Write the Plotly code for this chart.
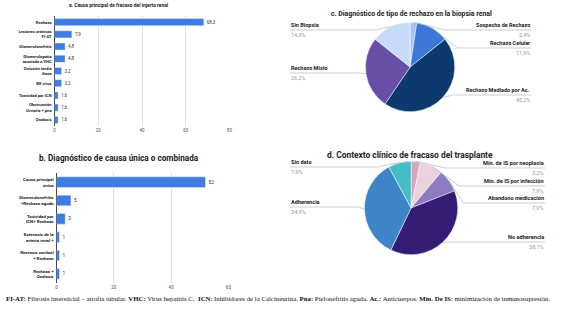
import math
import plotly.graph_objects as go

# ---------------- data ----------------
CAT_A = ["Rechazo", "Lesiones crónicas<br>FI-AT", "Glomerulonefritis",
         "Glomerulopatía<br>asociada a VHC", "Oclusión tardía<br>iliaca", "BK virus",
         "Toxicidad por ICN", "Obstrucción<br>Urinaria + pna", "Oxalosis"]
VAL_A = [68.3, 7.9, 4.8, 4.8, 3.2, 3.2, 1.6, 1.6, 1.6]

CAT_B = ["Causa principal<br>única", "Glomerulonefritis<br>+Rechazo agudo",
         "Toxicidad por<br>ICN+ Rechazo", "Estenosis de la<br>arteria renal +",
         "Necrosis cortical<br>+ Rechazo", "Rechazo +<br>Oxalosis"]
VAL_B = [52, 5, 3, 1, 1, 1]

LAB_C = ["Sospecha de Rechazo", "Rechazo Celular", "Rechazo Mediado por Ac.",
         "Rechazo Mixto", "Sin Biopsia"]
VAL_C = [2.4, 11.9, 45.2, 26.2, 14.3]

LAB_D = ["Mín. de IS por neoplasia", "Mín. de IS por infección", "Abandono medicación",
         "No adherencia", "Adherencia", "Sin dato"]
VAL_D = [3.2, 7.9, 7.9, 38.1, 34.9, 7.9]

TITLE_A = "a. Causa principal de fracaso del injerto renal"
TITLE_B = "b. Diagnóstico de causa única o combinada"
TITLE_C = "c. Diagnóstico de tipo de rechazo en la biopsia renal"
TITLE_D = "d. Contexto clínico de fracaso del trasplante"
FOOT = ("<b>FI-AT:</b> Fibrosis intersticial – atrofia tubular. <b>VHC:</b> Virus hepatitis C.  "
        "<b>ICN</b>: Inhibidores de la Calcineurina. <b>Pna:</b> Pielonefritis aguda. "
        "<b>Ac.:</b> Anticuerpos. <b>Mín. De IS</b>: minimización de inmunosupresión.")

# ---------------- style ----------------
W, H = 571, 321
FONT = "Roboto"
BAR_COLOR = "#3f7be0"
COL_C = ["#a4c2f4", "#3c78d8", "#0c3a6e", "#674ea7", "#c9daf8"]
COL_D = ["#d5a6bd", "#ead1dc", "#8e7cc3", "#351c75", "#3d85c6", "#46bdc6"]
LINE_Y_C = [30, 48, 95, 73, 30]
LINE_Y_D = [168, 186, 203, 242, 207, 167]


def px(x):
    return x / W


def py(y):
    return 1 - y / H


def fmt(v, dec=1):
    return (f"{v:.{dec}f}").replace(".", ",")


fig = go.Figure()

fig.add_trace(go.Bar(
    y=CAT_A, x=VAL_A, orientation="h", marker_color=BAR_COLOR,
    text=[fmt(v) for v in VAL_A], textposition="outside", constraintext="none",
    textfont=dict(size=4.5, color="#333", family=FONT), cliponaxis=False,
    xaxis="x", yaxis="y", showlegend=False))

fig.add_trace(go.Bar(
    y=CAT_B, x=VAL_B, orientation="h", marker_color=BAR_COLOR,
    text=[str(v) for v in VAL_B], textposition="outside", constraintext="none",
    textfont=dict(size=4.8, color="#333", family=FONT), cliponaxis=False,
    xaxis="x2", yaxis="y2", showlegend=False))

PIE_C = dict(cx=412, cy=67, r=45)
PIE_D = dict(cx=413, cy=208, r=47)

for labs, vals, cols, p in [(LAB_C, VAL_C, COL_C, PIE_C), (LAB_D, VAL_D, COL_D, PIE_D)]:
    fig.add_trace(go.Pie(
        labels=labs, values=vals, sort=False, direction="clockwise", rotation=0,
        textinfo="none", marker=dict(colors=cols, line=dict(color="white", width=0.5)),
        domain=dict(x=[px(p["cx"] - p["r"]), px(p["cx"] + p["r"])],
                    y=[py(p["cy"] + p["r"]), py(p["cy"] - p["r"])]),
        showlegend=False, hoverinfo="label+percent"))

axis_common = dict(showgrid=True, gridcolor="#e2e2e2", gridwidth=0.6,
                   zeroline=True, zerolinecolor="#444", zerolinewidth=0.8,
                   tickfont=dict(size=4.5, color="#555", family=FONT), ticks="",
                   fixedrange=True)

fig.update_layout(
    width=W, height=H, margin=dict(l=0, r=0, t=0, b=0),
    paper_bgcolor="white", plot_bgcolor="white",
    font=dict(family=FONT),
    bargap=0.42,
    xaxis=dict(domain=[px(54), px(230)], range=[0, 80], dtick=20, anchor="y", **axis_common),
    yaxis=dict(domain=[py(126), py(16)], anchor="x", type="category", autorange="reversed",
               tickvals=CAT_A, ticktext=[f"<b>{c}</b>" for c in CAT_A], ticks="",
               ticklabelstandoff=2, tickfont=dict(size=4.1, color="#222", family=FONT),
               showgrid=False, fixedrange=True),
    xaxis2=dict(domain=[px(56), px(229)], range=[0, 60], dtick=20, anchor="y2", **axis_common),
    yaxis2=dict(domain=[py(283), py(173)], anchor="x2", type="category", autorange="reversed",
                tickvals=CAT_B, ticktext=[f"<b>{c}</b>" for c in CAT_B], ticks="",
                ticklabelstandoff=2, tickfont=dict(size=4.4, color="#222", family=FONT),
                showgrid=False, fixedrange=True),
)

ann = []
shapes = []


def title(text, x, y, size):
    ann.append(dict(text=f"<b>{text}</b>", x=px(x), y=py(y), xref="paper", yref="paper",
                    xanchor="center", yanchor="middle", showarrow=False,
                    font=dict(size=size, color="#222", family=FONT)))


title(TITLE_A, 118, 5, 4.9)
title(TITLE_B, 119, 158, 8.2)
title(TITLE_C, 413, 14, 6.9)
title(TITLE_D, 412, 155, 8.4)


def pie_labels(labs, vals, p, line_ys, left_x, right_x, size):
    total = sum(vals)
    cum = 0
    for lab, v, ly in zip(labs, vals, line_ys):
        th = 2 * math.pi * (cum + v / 2) / total
        cum += v
        ex = p["cx"] + p["r"] * math.sin(th)
        ey = p["cy"] - p["r"] * math.cos(th)
        sgn = 1 if math.sin(th) > 0 else -1
        dy = ly - p["cy"]
        rr = p["r"] + 6
        if abs(dy) < rr:
            kx = p["cx"] + sgn * math.sqrt(rr * rr - dy * dy)
        else:
            kx = ex + sgn * 6
        outer = right_x if sgn > 0 else left_x
        shapes.append(dict(type="path", xref="paper", yref="paper",
                           path=f"M {px(ex)} {py(ey)} L {px(kx)} {py(ly)} L {px(outer)} {py(ly)}",
                           line=dict(color="#b8b8b8", width=0.7)))
        anchor = "right" if sgn > 0 else "left"
        ann.append(dict(text=f"<b>{lab}</b>", x=px(outer), y=py(ly - 0.8), xref="paper",
                        yref="paper", xanchor=anchor, yanchor="bottom", showarrow=False,
                        borderpad=0, font=dict(size=size, color="#222", family=FONT)))
        ann.append(dict(text=fmt(v) + "%", x=px(outer), y=py(ly + 0.6), xref="paper",
                        yref="paper", xanchor=anchor, yanchor="top", showarrow=False,
                        borderpad=0, font=dict(size=size, color="#9a9a9a", family=FONT)))


pie_labels(LAB_C, VAL_C, PIE_C, LINE_Y_C, 291, 534, 5.5)
pie_labels(LAB_D, VAL_D, PIE_D, LINE_Y_D, 291, 548, 5.6)

ann.append(dict(text=FOOT, x=px(3), y=py(298), xref="paper", yref="paper",
                xanchor="left", yanchor="middle", showarrow=False,
                font=dict(size=6.8, color="#111", family="Liberation Serif")))

fig.update_layout(annotations=ann, shapes=shapes)
fig.write_html("out.html")
